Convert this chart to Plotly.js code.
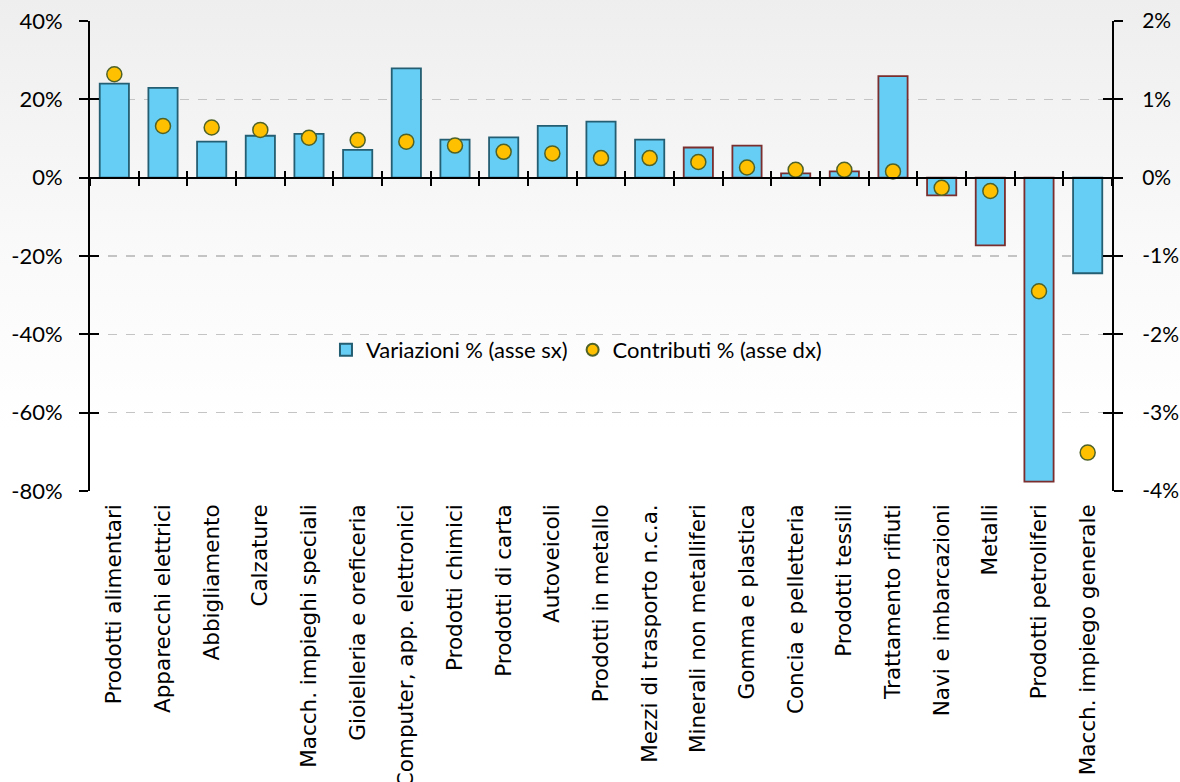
<!DOCTYPE html>
<html>
<head>
<meta charset="utf-8">
<script src="https://cdn.plot.ly/plotly-3.0.1.min.js"></script>
<style>
  html, body { margin: 0; padding: 0; }
  body { width: 1180px; height: 782px; background: linear-gradient(to bottom, #eeeeee 0%, #f9f9f9 30%, #ffffff 55%); }
  #chart { width: 1180px; height: 782px; }
</style>
</head>
<body>
<div id="chart"></div>
<script>
// Settori
const categories = [
  'Prodotti alimentari', 'Apparecchi elettrici', 'Abbigliamento', 'Calzature',
  'Macch. impieghi speciali', 'Gioielleria e oreficeria', 'Computer, app. elettronici',
  'Prodotti chimici', 'Prodotti di carta', 'Autoveicoli', 'Prodotti in metallo',
  'Mezzi di trasporto n.c.a.', 'Minerali non metalliferi', 'Gomma e plastica',
  'Concia e pelletteria', 'Prodotti tessili', 'Trattamento rifiuti',
  'Navi e imbarcazioni', 'Metalli', 'Prodotti petroliferi', 'Macch. impiego generale'
];

// Variazioni % (asse sinistro)
const variazioni = [24.0, 22.9, 9.2, 10.7, 11.2, 7.1, 27.9, 9.7, 10.3, 13.2, 14.3,
                    9.7, 7.7, 8.2, 1.1, 1.6, 25.9, -4.5, -17.3, -77.6, -24.4];

// Contributi % (asse destro)
const contributi = [1.32, 0.66, 0.64, 0.61, 0.51, 0.48, 0.46, 0.41, 0.33, 0.31, 0.25,
                    0.25, 0.20, 0.13, 0.10, 0.10, 0.08, -0.13, -0.17, -1.45, -3.51];

// Etichette degli assi
const leftTickVals = [40, 20, 0, -20, -40, -60, -80];
const leftTickText = ['40%', '20%', '0%', '-20%', '-40%', '-60%', '-80%'];
const rightTickVals = [2, 1, 0, -1, -2, -3, -4];
const rightTickText = ['2%', '1%', '0%', '-1%', '-2%', '-3%', '-4%'];

// Bordo delle barre: blu scuro o bordeaux
const BLUE_EDGE = '#245E72';
const RED_EDGE = '#7A2E2E';
const redEdged = new Set(['Minerali non metalliferi', 'Gomma e plastica', 'Concia e pelletteria',
  'Prodotti tessili', 'Trattamento rifiuti', 'Navi e imbarcazioni', 'Metalli', 'Prodotti petroliferi']);
const edgeColors = categories.map(c => redEdged.has(c) ? RED_EDGE : BLUE_EDGE);

const leftRange = [-80, 40];
const rightRange = [-4, 2];
const catRange = [-0.5, categories.length - 0.5];
const zeroFrac = (0 - leftRange[0]) / (leftRange[1] - leftRange[0]);

const tickFont = { family: 'Lato, "Open Sans", sans-serif', size: 22, color: '#000' };

const bars = {
  type: 'bar', name: 'Variazioni % (asse sx)',
  x: categories, y: variazioni, xaxis: 'x', yaxis: 'y',
  marker: { color: '#66CDF4', line: { color: edgeColors, width: 1.8 } },
  hoverinfo: 'x+y'
};

const dots = {
  type: 'scatter', mode: 'markers', name: 'Contributi % (asse dx)',
  x: categories, y: contributi, xaxis: 'x', yaxis: 'y2',
  marker: { color: '#FFC000', size: 15, line: { color: '#4F6228', width: 1.5 } },
  hoverinfo: 'x+y'
};

// Tracce invisibili che tengono in vita gli assi sovrapposti delle tacche
function helper(xa, ya, vals) {
  return { type: 'scatter', mode: 'markers', x: categories, y: vals, xaxis: xa, yaxis: ya,
           marker: { opacity: 0 }, hoverinfo: 'skip', showlegend: false };
}

const data = [
  bars,
  helper('x2', 'y', variazioni),
  helper('x3', 'y', variazioni),
  helper('x', 'y3', variazioni),
  helper('x', 'y4', contributi),
  dots
];

const zeroAxis = (ticks) => ({
  type: 'category', overlaying: 'x', anchor: 'free', position: zeroFrac,
  categoryorder: 'array', categoryarray: categories, range: catRange,
  showline: ticks === 'outside', linecolor: '#000', linewidth: 2,
  ticks: ticks, tickson: 'boundaries', ticklen: 7, tickwidth: 2, tickcolor: '#000',
  showticklabels: false, showgrid: false, zeroline: false, layer: 'above traces', fixedrange: true
});

const layout = {
  width: 1180, height: 782,
  margin: { l: 90, r: 68, t: 21, b: 291 },
  paper_bgcolor: 'rgba(0,0,0,0)', plot_bgcolor: 'rgba(0,0,0,0)',
  bargap: 0.4,
  showlegend: true,
  legend: {
    orientation: 'h', x: 0.476, y: 0.30, xanchor: 'center', yanchor: 'middle',
    font: { family: 'Lato, "Open Sans", sans-serif', size: 22, color: '#000' },
    bgcolor: 'rgba(0,0,0,0)', itemsizing: 'constant', traceorder: 'normal'
  },
  xaxis: {
    type: 'category', categoryorder: 'array', categoryarray: categories, range: catRange,
    showline: false, ticks: '', tickangle: -90, ticklabelstandoff: 8,
    tickfont: { family: '"DejaVu Sans", sans-serif', size: 21.5, color: '#000' },
    showgrid: false, zeroline: false, fixedrange: true
  },
  xaxis2: zeroAxis('outside'),
  xaxis3: zeroAxis('inside'),
  yaxis: {
    range: leftRange, tickmode: 'array', tickvals: leftTickVals, ticktext: leftTickText,
    showline: true, linecolor: '#000', linewidth: 2,
    ticks: 'outside', ticklen: 9, tickwidth: 2, tickcolor: '#000', ticklabelstandoff: 12,
    showgrid: true, gridcolor: '#c4c4c4', griddash: 'dash', gridwidth: 1.5,
    zeroline: false, tickfont: tickFont, fixedrange: true
  },
  yaxis2: {
    range: rightRange, tickmode: 'array', tickvals: rightTickVals, ticktext: rightTickText,
    overlaying: 'y', side: 'right', anchor: 'x',
    showline: true, linecolor: '#000', linewidth: 2,
    ticks: 'outside', ticklen: 9, tickwidth: 2, tickcolor: '#000', ticklabelstandoff: 15,
    showgrid: false, zeroline: false,
    tickfont: { family: 'Lato, "Open Sans", sans-serif', size: 21, color: '#000' }, fixedrange: true
  },
  yaxis3: {
    range: leftRange, tickmode: 'array', tickvals: leftTickVals,
    overlaying: 'y', side: 'left', anchor: 'x',
    showline: false, ticks: 'inside', ticklen: 9, tickwidth: 2, tickcolor: '#000',
    showticklabels: false, showgrid: false, zeroline: false, fixedrange: true
  },
  yaxis4: {
    range: rightRange, tickmode: 'array', tickvals: rightTickVals,
    overlaying: 'y', side: 'right', anchor: 'x',
    showline: false, ticks: 'inside', ticklen: 9, tickwidth: 2, tickcolor: '#000',
    showticklabels: false, showgrid: false, zeroline: false, fixedrange: true
  }
};

Plotly.newPlot('chart', data, layout, { displayModeBar: false, staticPlot: true });
</script>
</body>
</html>
